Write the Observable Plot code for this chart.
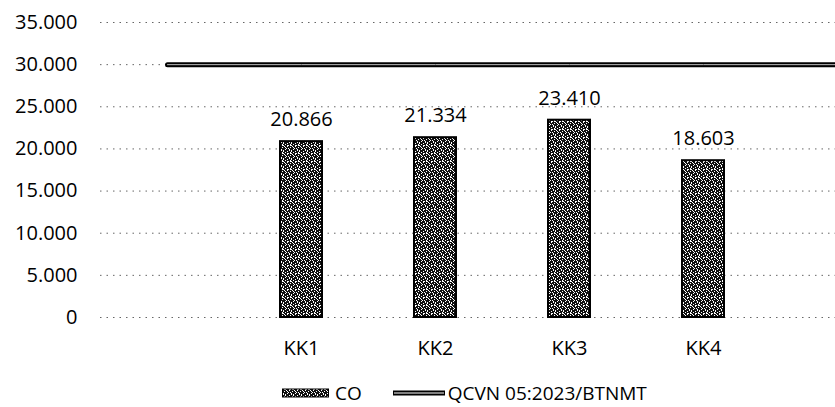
<!DOCTYPE html>
<html>
<head>
<meta charset="utf-8">
<script src="https://cdn.jsdelivr.net/npm/d3@7"></script>
<script src="https://cdn.jsdelivr.net/npm/@observablehq/plot@0.6"></script>
<style>
  html, body { margin: 0; padding: 0; background: #fff; overflow: hidden; }
  #wrap { position: relative; width: 835px; height: 407px; font-family: "Open Sans", sans-serif; color: #000; }
  #legend { position: absolute; left: 0; top: 382px; height: 22px; line-height: 22px; display: flex; align-items: center; font-size: 19px; white-space: nowrap; }
  #legend .item { display: flex; align-items: center; }
</style>
</head>
<body>
<div id="wrap">
  <div id="chart"></div>
  <div id="legend"></div>
</div>
<script>
// ---- data ----
const categories = ["", "KK1", "KK2", "KK3", "KK4", " "];
const barCategories = ["KK1", "KK2", "KK3", "KK4"];
const coValues = [20866, 21334, 23410, 18603];
const limitValues = [30000, 30000, 30000, 30000, 30000, 30000];
const yTicks = [0, 5000, 10000, 15000, 20000, 25000, 30000, 35000];
const seriesNames = ["CO", "QCVN 05:2023/BTNMT"];

const bars = barCategories.map((c, i) => ({cat: c, value: coValues[i]}));
const limit = categories.map((c, i) => ({cat: c, value: limitValues[i]}));

const loc = d3.formatLocale({decimal: ",", thousands: ".", grouping: [3], currency: ["", ""]});
const fmt = loc.format(",d");

const chart = Plot.plot({
  width: 835,
  height: 375,
  marginLeft: 100,
  marginRight: 0,
  marginTop: 22,
  marginBottom: 58,
  style: {fontFamily: "Open Sans, sans-serif", fontSize: "20px", color: "#000", background: "white", overflow: "visible"},
  x: {domain: categories, range: [100, 904], paddingInner: 0.69, paddingOuter: 0.345, label: null, tickSize: 0, tickPadding: 23, tickFormat: d => d.trim()},
  y: {domain: [0, 35000], ticks: yTicks, tickFormat: fmt, tickSize: 0, tickPadding: 23, label: null},
  marks: [
    Plot.ruleY(yTicks, {stroke: "#666", strokeDasharray: "1.5,5", strokeWidth: 1}),
    Plot.barY(bars, {x: "cat", y: "value", fill: "url(#stip)", stroke: "#000", strokeWidth: 2}),
    Plot.text(bars, {x: "cat", y: "value", text: d => fmt(d.value), dy: -22, fill: "#000"}),
    Plot.lineY(limit, {x: "cat", y: "value", stroke: "#000", strokeWidth: 5}),
    Plot.lineY(limit, {x: "cat", y: "value", stroke: "#bbb", strokeWidth: 1})
  ]
});

// stipple texture for the bars (styling only)
const defs = d3.select(chart).insert("defs", ":first-child");
const pat = defs.append("pattern").attr("id", "stip").attr("width", 8).attr("height", 8).attr("patternUnits", "userSpaceOnUse");
pat.append("rect").attr("width", 8).attr("height", 8).attr("fill", "#fff");
const dots = [[0,0,2,1],[3,0,2,1],[6,0,2,1],[1,1,1,2],[4,1,3,1],[0,2,1,1],[2,2,2,1],[6,2,1,2],
              [0,3,2,1],[3,3,2,1],[7,3,1,2],[1,4,2,1],[4,4,2,1],[6,5,2,1],[0,5,1,2],[2,5,3,1],
              [4,6,1,1],[2,6,1,2],[5,6,2,1],[0,7,2,1],[4,7,3,1],[7,6,1,1],[5,2,1,1],[3,4,1,1]];
dots.forEach(([x, y, w, h]) => pat.append("rect").attr("x", x).attr("y", y).attr("width", w).attr("height", h).attr("fill", "#111"));

document.getElementById("chart").appendChild(chart);

// legend
const legend = document.getElementById("legend");
legend.innerHTML = `
  <div class="item" style="margin-left:282px">
    <svg width="47" height="10"><rect x="0.5" y="1" width="46" height="8" fill="url(#stip)" stroke="#000" stroke-width="1"/></svg>
    <span style="margin-left:6px">${seriesNames[0]}</span>
  </div>
  <div class="item" style="margin-left:30px">
    <svg width="54" height="10"><line x1="1" x2="53" y1="5" y2="5" stroke="#000" stroke-width="5"/><line x1="2" x2="52" y1="5" y2="5" stroke="#fff" stroke-width="1.2"/></svg>
    <span style="margin-left:2px">${seriesNames[1]}</span>
  </div>`;
</script>
</body>
</html>
